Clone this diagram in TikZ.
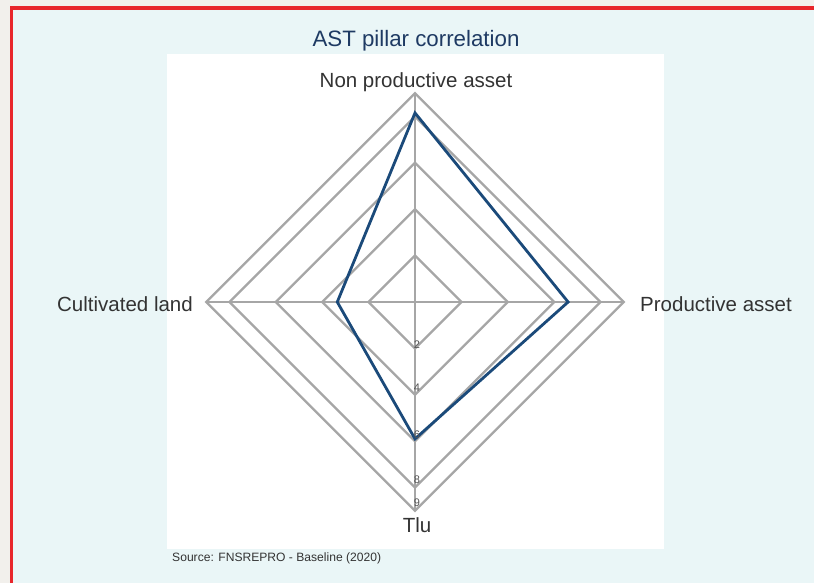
\documentclass[tikz,border=0pt]{standalone}
\usepackage{fontspec}
\setmainfont{Liberation Sans}
\usetikzlibrary{calc}
\definecolor{outerbg}{HTML}{F2F0EC}
\definecolor{innerbg}{HTML}{EAF6F7}
\definecolor{frame}{HTML}{E8262B}
\definecolor{gridgray}{HTML}{A6A6A6}
\definecolor{datablue}{HTML}{1B4A7A}
\definecolor{titleblue}{HTML}{1E3A63}
\definecolor{labgray}{HTML}{333333}
\definecolor{tickgray}{HTML}{555555}
\tikzset{
  gridline/.style={draw=gridgray, line width=2.3pt, line join=miter},
  dataline/.style={draw=datablue, line width=2.8pt, line join=miter},
  axislab/.style={text=labgray, font=\fontsize{20.5}{24}\selectfont, inner sep=0pt},
  ticklab/.style={text=tickgray, font=\fontsize{11}{13}\selectfont, inner sep=0pt},
}
\begin{document}
\begin{tikzpicture}[x=1pt,y=-1pt]
\useasboundingbox (0,0) rectangle (814,583);
\fill[outerbg] (0,0) rectangle (814,583);
\fill[innerbg] (11.3,8) rectangle (830,600);
\draw[frame, line width=3.5pt] (830,8) -- (11.3,8) -- (11.3,600);
\fill[white] (167,54) rectangle (664,549);
\coordinate (C) at (415,302);
\def\u{23.2}
\foreach \r in {2,4,6,8,9} {
  \draw[gridline] ($(C)+(0,-\u*\r)$) -- ($(C)+(\u*\r,0)$) -- ($(C)+(0,\u*\r)$) -- ($(C)+(-\u*\r,0)$) -- cycle;
}
\coordinate (T) at ($(C)+(0,-9*\u)$);
\coordinate (R) at ($(C)+(9*\u,0)$);
\coordinate (B) at ($(C)+(0,9*\u)$);
\coordinate (L) at ($(C)+(-9*\u,0)$);
\draw[gridline] (C) -- (T);
\draw[gridline] (C) -- (R);
\draw[gridline] (C) -- (B);
\draw[gridline] (C) -- (L);
\coordinate (dT) at ($(C)+(0,-8.15*\u)$);
\coordinate (dR) at ($(C)+(6.6*\u,0)$);
\coordinate (dB) at ($(C)+(0,5.9*\u)$);
\coordinate (dL) at ($(C)+(-3.35*\u,0)$);
\draw[dataline] (dT) -- (dR) -- (dB) -- (dL) -- cycle;
\node[ticklab] (t2) at (417,345) {2};
\node[ticklab] (t4) at (417,388) {4};
\node[ticklab] (t6) at (417,435) {6};
\node[ticklab] (t8) at (417,480) {8};
\node[ticklab] (t9) at (417,503) {9};
\node[axislab] (lT) at (416,82) {Non productive asset};
\node[axislab] (lR) at (716,304) {Productive asset};
\node[axislab] (lB) at (417,525) {Tlu};
\node[axislab] (lL) at (125,304) {Cultivated land};
\node[text=titleblue, font=\fontsize{22.3}{26}\selectfont, inner sep=0pt] (title) at (416,41) {AST pillar correlation};
\node[text=labgray, font=\fontsize{12.1}{14}\selectfont, inner sep=0pt, anchor=west] (src) at (172,558) {Source: FNSREPRO - Baseline (2020)};
\end{tikzpicture}
\end{document}
